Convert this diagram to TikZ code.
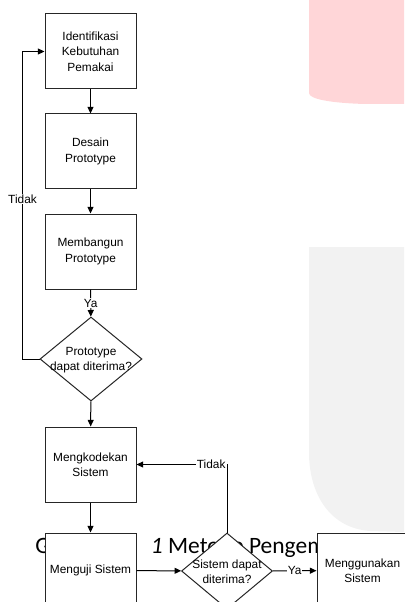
\documentclass[tikz,border=0pt]{standalone}
\usepackage{fontspec}
\setmainfont{Liberation Sans}
\newfontfamily\captionfont{Carlito}
\usetikzlibrary{shapes.geometric,arrows.meta}

\begin{document}
\begin{tikzpicture}[x=0.75pt,y=0.75pt,yscale=-1,xscale=1,
    proc/.style={draw=black!85,fill=white,line width=0.75pt,minimum width=68.25pt,minimum height=56.25pt,inner sep=0pt,align=center,font=\fontsize{8.9}{11.5}\selectfont},
    dec/.style={draw=black!85,fill=white,line width=0.75pt,diamond,inner sep=0pt},
    txt/.style={align=center,inner sep=0pt,font=\fontsize{8.9}{11}\selectfont},
    lbl/.style={fill=white,inner sep=0.75pt,font=\fontsize{8.9}{10}\selectfont},
    arr/.style={line width=0.75pt,-{Triangle[length=5pt,width=4.5pt]}},
    ln/.style={line width=0.75pt}]
    \useasboundingbox (0,0) rectangle (404,602);
    %Shape: page background, pink and gray
    \fill[fill={rgb,255:red,255;green,214;blue,216}] (309,0) -- (309,93) .. controls (309,99) and (330,103) .. (365,104) -- (404,104) -- (404,0) -- cycle ;
    \fill[fill={rgb,255:red,242;green,242;blue,242}] (309,247) -- (309,455) .. controls (310,495) and (330,528) .. (370,531) -- (404,532) -- (404,247) -- cycle ;
    % Text Node (caption, partly hidden)
    \draw (35,553) node [anchor=base west][inner sep=0pt]  {\captionfont\fontsize{17.6}{20}\selectfont Gambar 3.\hspace{12pt}\textit{1} Metode Pengembangan};
    %Shape: Rectangle
    \draw (90.5,51.5) node [proc] (ident) {Identifikasi\\Kebutuhan\\Pemakai};
    %Shape: Rectangle
    \draw (90.5,151.5) node [proc] (desain) {Desain\\Prototype};
    %Shape: Rectangle
    \draw (90.5,251.5) node [proc] (bangun) {Membangun\\Prototype};
    %Shape: Diamond
    \draw (91,359) node [dec,minimum width=76.5pt,minimum height=63pt] (terima1) {};
    % Text Node
    \draw (91,360) node [txt] {Prototype\\dapat diterima?};
    %Shape: Rectangle
    \draw (90.5,464.5) node [proc] (kode) {Mengkodekan\\Sistem};
    %Shape: Rectangle
    \draw (90.5,570.5) node [proc] (uji) {Menguji Sistem};
    %Shape: Diamond
    \draw (227,571) node [dec,minimum width=68.25pt,minimum height=57pt] (terima2) {};
    % Text Node
    \draw (227,572) node [txt] {Sistem dapat\\diterima?};
    %Shape: Rectangle
    \draw (362.5,570.5) node [proc] (guna) {Menggunakan\\Sistem};
    %Straight Lines
    \draw [arr] (ident) -- (desain) ;
    \draw [arr] (desain) -- (bangun) ;
    \draw [arr] (bangun) -- node [lbl] {Ya} (terima1) ;
    \draw [arr] (terima1.west) -- ++(-17,0) |- node [lbl,pos=0.26] {Tidak} (ident.west) ;
    \draw [arr] (terima1) -- (kode) ;
    \draw [arr] (kode) -- (uji) ;
    \draw [arr] (uji) -- (terima2) ;
    \draw [arr] (terima2) -- node [lbl] {Ya} (guna) ;
    \draw [arr] (terima2.north) |- node [lbl,pos=0.5,anchor=east] {Tidak} (kode.east) ;
\end{tikzpicture}
\end{document}
